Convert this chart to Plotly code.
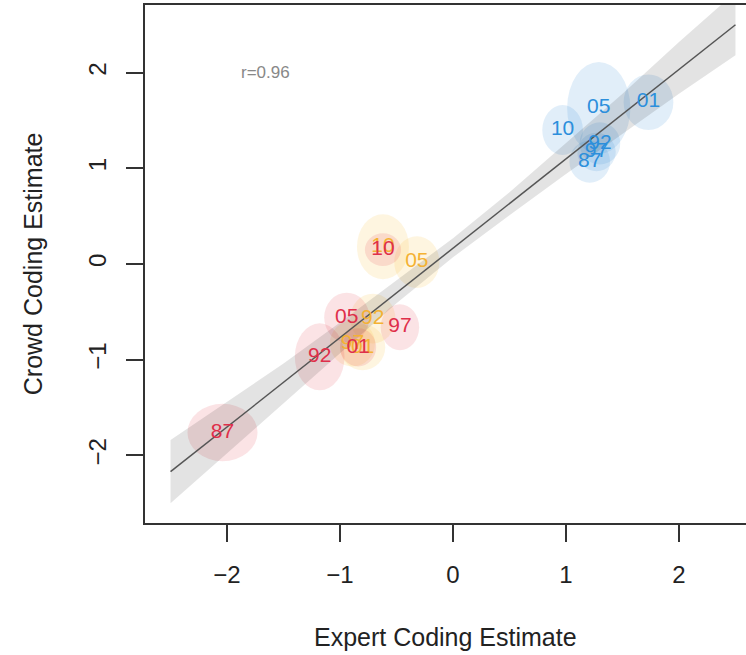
import plotly.graph_objects as go

# ---- data ----
blue_labels = ["87", "92", "97", "01", "05", "10"]
blue_x = [1.21, 1.30, 1.27, 1.73, 1.29, 0.97]
blue_y = [1.07, 1.26, 1.17, 1.69, 1.63, 1.40]
blue_sx = [0.18, 0.18, 0.17, 0.22, 0.28, 0.18]
blue_sy = [0.22, 0.22, 0.20, 0.29, 0.48, 0.26]

red_labels = ["87", "92", "97", "01", "05", "10"]
red_x = [-2.04, -1.18, -0.47, -0.84, -0.94, -0.62]
red_y = [-1.76, -0.97, -0.66, -0.87, -0.56, 0.15]
red_sx = [0.31, 0.22, 0.17, 0.16, 0.20, 0.16]
red_sy = [0.30, 0.35, 0.24, 0.20, 0.26, 0.17]

orange_labels = ["92", "97", "01", "05", "10"]
orange_x = [-0.71, -0.89, -0.80, -0.32, -0.62]
orange_y = [-0.57, -0.83, -0.87, 0.02, 0.18]
orange_sx = [0.20, 0.20, 0.20, 0.20, 0.23]
orange_sy = [0.26, 0.24, 0.24, 0.27, 0.34]

fit_x = [-2.5, 2.5]
fit_y = [-2.17, 2.50]
band_x = [-2.5, -2.0, -1.5, -1.0, -0.5, 0.0, 0.5, 1.0, 1.5, 2.0, 2.5]
band_lo = [-2.50, -1.98, -1.46, -0.93, -0.41, 0.07, 0.51, 0.94, 1.36, 1.78, 2.18]
band_hi = [-1.84, -1.44, -1.04, -0.61, -0.17, 0.27, 0.75, 1.26, 1.78, 2.32, 2.84]

r_text = "r=0.96"
x_ticks = [-2, -1, 0, 1, 2]
y_ticks = [-2, -1, 0, 1, 2]

groups = [
    (orange_labels, orange_x, orange_y, orange_sx, orange_sy, "#f4b233", "rgba(250,190,60,0.16)"),
    (red_labels, red_x, red_y, red_sx, red_sy, "#df2f4a", "rgba(225,70,80,0.15)"),
    (blue_labels, blue_x, blue_y, blue_sx, blue_sy, "#2c8fdc", "rgba(70,150,220,0.16)"),
]

fig = go.Figure()
shapes = []
for labs, xs, ys, sxs, sys_, tcol, fcol in groups:
    for x, y, sx, sy in zip(xs, ys, sxs, sys_):
        shapes.append(dict(type="circle", xref="x", yref="y",
                           x0=x - sx, x1=x + sx, y0=y - sy, y1=y + sy,
                           fillcolor=fcol, line=dict(width=0), layer="below"))

# confidence band
fig.add_trace(go.Scatter(x=band_x, y=band_hi, mode="lines", line=dict(width=0),
                         hoverinfo="skip", showlegend=False))
fig.add_trace(go.Scatter(x=band_x, y=band_lo, mode="lines", line=dict(width=0),
                         fill="tonexty", fillcolor="rgba(0,0,0,0.11)",
                         hoverinfo="skip", showlegend=False))
fig.add_trace(go.Scatter(x=fit_x, y=fit_y, mode="lines",
                         line=dict(color="#555555", width=1.5),
                         hoverinfo="skip", showlegend=False))

for labs, xs, ys, sxs, sys_, tcol, fcol in groups:
    fig.add_trace(go.Scatter(x=xs, y=ys, mode="text", text=labs,
                             textfont=dict(family="Liberation Sans, Arial", size=21, color=tcol),
                             showlegend=False))

fig.add_annotation(x=-1.66, y=2.0, xref="x", yref="y", text=r_text, showarrow=False,
                   font=dict(family="Liberation Sans, Arial", size=17, color="#888888"))

fig.add_annotation(x=0.5, y=-0.22, xref="paper", yref="paper", text="Expert Coding Estimate",
                   showarrow=False, yanchor="middle",
                   font=dict(family="Liberation Sans, Arial", size=25, color="#222222"))
fig.add_annotation(x=-0.186, y=0.5, xref="paper", yref="paper", text="Crowd Coding Estimate",
                   showarrow=False, textangle=-90, xanchor="center",
                   font=dict(family="Liberation Sans, Arial", size=25, color="#222222"))

fig.update_layout(
    width=746, height=655,
    margin=dict(l=145, r=0, t=5, b=132),
    plot_bgcolor="white", paper_bgcolor="white",
    shapes=shapes,
    font=dict(family="Liberation Sans, Arial", color="#222222"),
)
fig.update_xaxes(range=[-2.726, 2.593], tickvals=x_ticks, ticks="outside", ticklen=17,
                 tickwidth=2, tickcolor="#333333", showgrid=False, zeroline=False,
                 showline=True, mirror=True, linecolor="#333333", linewidth=2,
                 tickfont=dict(size=24), ticklabelstandoff=12)
fig.update_yaxes(range=[-2.706, 2.706], tickvals=y_ticks, ticks="outside", ticklen=17,
                 tickwidth=2, tickcolor="#333333", showgrid=False, zeroline=False,
                 showline=True, mirror=False, linecolor="#333333", linewidth=2,
                 tickangle=-90, tickfont=dict(size=24), ticklabelstandoff=10)

fig.write_html("out.html")
